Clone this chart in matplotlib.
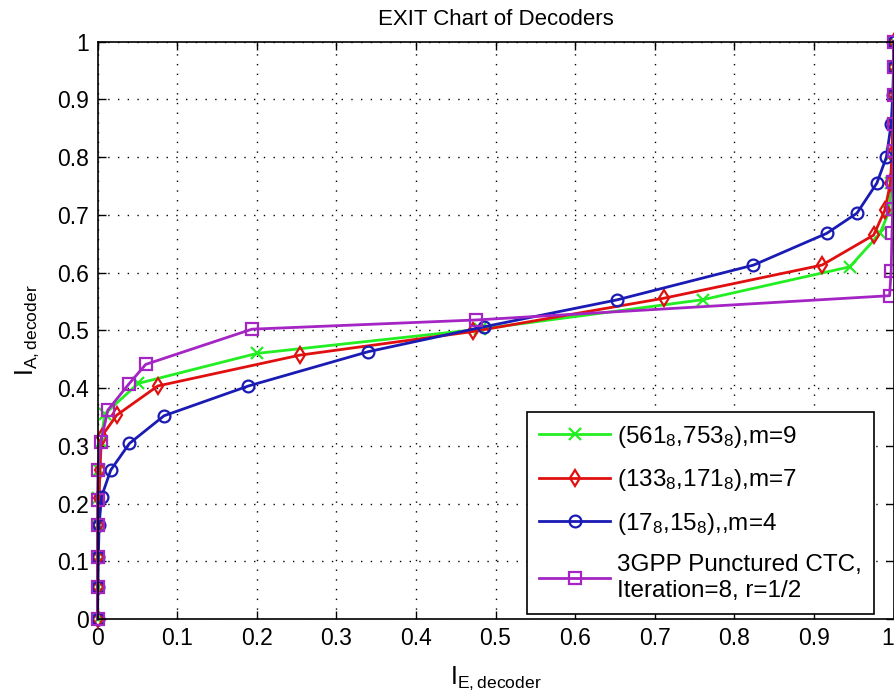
import matplotlib
matplotlib.use("Agg")
import matplotlib.pyplot as plt

plt.rcParams['font.family'] = ['Liberation Sans', 'DejaVu Sans']
plt.rcParams['mathtext.fontset'] = 'custom'
plt.rcParams['mathtext.rm'] = 'Liberation Sans'
plt.rcParams['mathtext.it'] = 'Liberation Sans'
plt.rcParams['mathtext.default'] = 'regular'

# EXIT curves: extrinsic information I_E (x) against a-priori information I_A (y)
green_ie = [0, 0, 0, 0, 0.001, 0.002, 0.004, 0.009, 0.051, 0.200, 0.480, 0.760,
            0.945, 0.983, 0.994, 0.997, 0.998, 0.999, 1.0, 1.0, 1.0]
green_ia = [0, 0.056, 0.108, 0.163, 0.210, 0.258, 0.306, 0.355, 0.408, 0.460, 0.502,
            0.553, 0.610, 0.668, 0.705, 0.755, 0.805, 0.858, 0.908, 0.957, 1.0]

red_ie = [0, 0, 0, 0.001, 0.002, 0.003, 0.005, 0.024, 0.0756, 0.254, 0.472, 0.711,
          0.910, 0.975, 0.989, 0.996, 0.998, 0.999, 1.0, 1.0, 1.0]
red_ia = [0, 0.056, 0.108, 0.163, 0.210, 0.258, 0.316, 0.353, 0.4036, 0.457, 0.498,
          0.5555, 0.613, 0.665, 0.708, 0.755, 0.805, 0.858, 0.908, 0.957, 1.0]

blue_ie = [0, 0.0005, 0.001, 0.002, 0.005, 0.0166, 0.040, 0.0835, 0.1895, 0.340,
           0.485, 0.652, 0.824, 0.916, 0.954, 0.979, 0.991, 0.997, 0.999, 1.0, 1.0]
blue_ia = [0, 0.056, 0.108, 0.163, 0.212, 0.258, 0.304, 0.352, 0.4036, 0.463, 0.506,
           0.5526, 0.613, 0.668, 0.703, 0.755, 0.800, 0.858, 0.908, 0.957, 1.0]

ctc_ie = [0, 0, 0, 0, 0, 0.0005, 0.004, 0.013, 0.039, 0.0605, 0.194, 0.476, 0.995,
          0.997, 0.998, 0.999, 0.999, 1.0, 1.0, 1.0, 1.0, 1.0]
ctc_ia = [0, 0.056, 0.108, 0.163, 0.206, 0.258, 0.306, 0.362, 0.4065, 0.441, 0.502,
          0.518, 0.560, 0.603, 0.668, 0.710, 0.757, 0.810, 0.858, 0.908, 0.957, 1.0]

labels = [r'(561$_8$,753$_8$),m=9',
          r'(133$_8$,171$_8$),m=7',
          r'(17$_8$,15$_8$),,m=4',
          '3GPP Punctured CTC,\nIteration=8, r=1/2']

ticks = [0, 0.1, 0.2, 0.3, 0.4, 0.5, 0.6, 0.7, 0.8, 0.9, 1]
tick_labels = ['0', '0.1', '0.2', '0.3', '0.4', '0.5', '0.6', '0.7', '0.8', '0.9', '1']

fig = plt.figure(figsize=(8.95, 6.95), dpi=100)
ax = fig.add_axes([0.109, 0.1094, 0.8894, 0.8306])

common = dict(lw=2.0, ms=8.5, mew=1.6, mfc='none', clip_on=False)
ax.plot(green_ie, green_ia, color='#22ee22', marker='x', label=labels[0], **common)
ax.plot(red_ie, red_ia, color='#e01010', marker='d', label=labels[1], **common)
ax.plot(blue_ie, blue_ia, color='#1a1ab4', marker='o', label=labels[2], **common)
ax.plot(ctc_ie, ctc_ia, color='#a424c4', marker='s', label=labels[3], **common)

ax.set_xlim(0, 1)
ax.set_ylim(0, 1)
ax.set_xticks(ticks)
ax.set_xticklabels(tick_labels)
ax.set_yticks(ticks)
ax.set_yticklabels(tick_labels)
ax.tick_params(direction='in', top=True, right=True, length=6, width=1,
               labelsize=16.5, pad=6)
# keep the last x tick label inside the figure edge
ax.get_xticklabels()[-1].set_horizontalalignment('right')
ax.grid(True, color='k', linestyle=(0, (1, 6)), linewidth=1.0)
for s in ax.spines.values():
    s.set_linewidth(1.2)

ax.set_title('EXIT Chart of Decoders', fontsize=16, pad=12)
ax.set_xlabel(r'I$_{E,decoder}$', fontsize=18, labelpad=10)
ax.set_ylabel(r'I$_{A,decoder}$', fontsize=18, labelpad=12)

leg = ax.legend(loc='lower right', bbox_to_anchor=(0.9755, 0.0087), borderaxespad=0,
                prop={'size': 17.5}, handlelength=2.9, handletextpad=0.3,
                labelspacing=0.72, borderpad=0.5, fancybox=False, framealpha=1,
                edgecolor='k')
leg.get_frame().set_linewidth(1.2)

fig.savefig('out.png', dpi=100, facecolor='white')
